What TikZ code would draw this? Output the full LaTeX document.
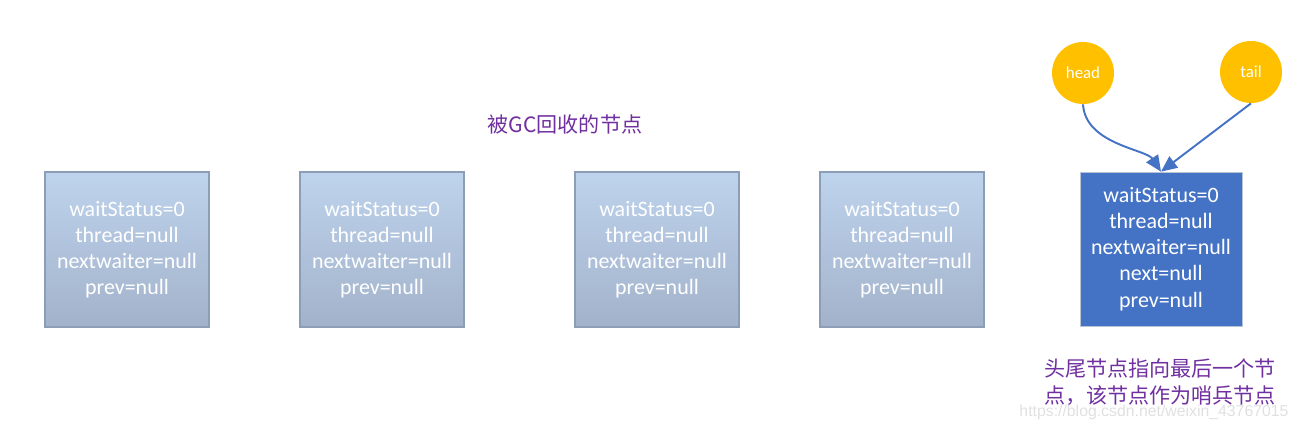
\documentclass[tikz,border=0pt]{standalone}
\usepackage{fontspec}
\setmainfont{Carlito}
\newfontfamily\cjk{Noto Sans CJK SC}
\newfontfamily\wmark{Liberation Sans}
\usetikzlibrary{arrows.meta}
\definecolor{nodetop}{RGB}{190,211,236}
\definecolor{nodebot}{RGB}{163,178,203}
\definecolor{nodeline}{RGB}{140,158,183}
\definecolor{sentblue}{RGB}{68,114,196}
\definecolor{ptrgold}{RGB}{255,192,0}
\definecolor{notepurple}{RGB}{112,48,160}
\tikzset{
	oldnode/.style={draw=nodeline, line width=0.6pt, top color=nodetop, bottom color=nodebot,
		minimum width=3.28cm, minimum height=3.1cm, text=white, align=center,
		font=\fontsize{12.5}{14.9}\selectfont},
	sentnode/.style={draw=nodeline!60, line width=0.4pt, fill=sentblue,
		minimum width=3.24cm, minimum height=3.08cm, text=white, align=center,
		font=\fontsize{12.5}{14.9}\selectfont},
	ptr/.style={circle, fill=ptrgold, minimum size=1.24cm, inner sep=0pt, text=white,
		font=\fontsize{9.6}{10}\selectfont},
	note/.style={text=notepurple, align=center, font=\cjk\fontsize{12}{15.3}\selectfont},
	link/.style={draw=sentblue, line width=1.1pt, -{Triangle[length=3.2mm,width=2.8mm]}}
}
\begin{document}
\begin{tikzpicture}
			%%%%% START %%%%%
			\useasboundingbox (0, 0) rectangle (26.08, 8.64);
			
			% collected nodes
			\node[oldnode] (gc1) at (2.54, 3.65) {waitStatus=0\\thread=null\\nextwaiter=null\\prev=null};
			\node[oldnode] (gc2) at (7.64, 3.65) {waitStatus=0\\thread=null\\nextwaiter=null\\prev=null};
			\node[oldnode] (gc3) at (13.14, 3.65) {waitStatus=0\\thread=null\\nextwaiter=null\\prev=null};
			\node[oldnode] (gc4) at (18.04, 3.65) {waitStatus=0\\thread=null\\nextwaiter=null\\prev=null};
			
			% sentinel node
			\node[sentnode] (sentinel) at (23.22, 3.66) {waitStatus=0\\thread=null\\nextwaiter=null\\next=null\\prev=null};
			
			\node[ptr] (head) at (21.66, 7.18) {head};
			\node[ptr] (tail) at (25.02, 7.20) {tail};
			
			\draw[link] (head.south) .. controls +(0.05, -0.8) and +(-0.3, 0.45) .. (sentinel.north);
			\draw[link] (tail.south) -- (sentinel.north);
			
			\node[note] (gclabel) at (11.3, 6.16) {被GC回收的节点};
			\node[note] (sentlabel) at (23.2, 0.99) {头尾节点指向最后一个节\\点，该节点作为哨兵节点};
			
			\node[text=black!12, font=\wmark\fontsize{9}{10}\selectfont] (watermark) at (23.08, 0.4) {https://blog.csdn.net/weixin\_43767015};
			%%%%% END %%%%%
		\end{tikzpicture}
\end{document}
